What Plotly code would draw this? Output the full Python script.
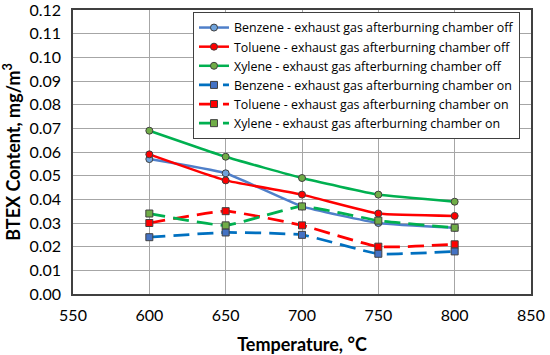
import plotly.graph_objects as go

temps = [600, 650, 700, 750, 800]
benzene_off = [0.057, 0.051, 0.037, 0.030, 0.028]
toluene_off = [0.059, 0.048, 0.042, 0.034, 0.033]
xylene_off = [0.069, 0.058, 0.049, 0.042, 0.039]
benzene_on = [0.024, 0.026, 0.025, 0.017, 0.018]
toluene_on = [0.030, 0.035, 0.029, 0.020, 0.021]
xylene_on = [0.034, 0.029, 0.037, 0.031, 0.028]

names = [
    "Benzene - exhaust gas afterburning chamber off",
    "Toluene - exhaust gas afterburning chamber off",
    "Xylene - exhaust gas afterburning chamber off",
    "Benzene - exhaust gas afterburning chamber on",
    "Toluene - exhaust gas afterburning chamber on",
    "Xylene - exhaust gas afterburning chamber on",
]
series = [benzene_off, toluene_off, xylene_off, benzene_on, toluene_on, xylene_on]
line_colors = ["#4F7FC9", "#FF0000", "#00B050", "#0070C0", "#FF0000", "#00B050"]
fill_colors = ["#6FA3DC", "#FF0000", "#70AD47", "#4472C4", "#FF0000", "#70AD47"]
symbols = ["circle", "circle", "circle", "square", "square", "square"]
dashes = ["solid", "solid", "solid", "16px,8px", "16px,8px", "16px,8px"]
widths = [2.5, 2.5, 2.5, 2.75, 2.75, 2.75]

fig = go.Figure()
for n, y, lc, fc, s, d, w in zip(names, series, line_colors, fill_colors, symbols, dashes, widths):
    fig.add_trace(go.Scatter(
        x=temps, y=y, name=n, mode="lines+markers",
        line=dict(color=lc, width=w, dash=d, shape="spline", smoothing=0.4),
        marker=dict(symbol=s, size=7, color=fc, line=dict(color="#404040", width=1)),
    ))

font = "Lato, 'Open Sans', sans-serif"
fig.update_layout(
    width=550, height=355,
    margin=dict(l=73, r=19, t=10, b=61),
    paper_bgcolor="white", plot_bgcolor="white",
    font=dict(family=font, color="black", size=16),
    legend=dict(
        x=0.262, y=0.993, xanchor="left", yanchor="top",
        bgcolor="white", bordercolor="#404040", borderwidth=1,
        font=dict(size=12.4, family="'Open Sans', sans-serif"), tracegroupgap=0,
        itemwidth=30,
    ),
    xaxis=dict(
        range=[550, 850], dtick=50, tick0=550,
        showgrid=True, gridcolor="#A6A6A6", gridwidth=1,
        showline=True, linecolor="#404040", linewidth=1.5, mirror=True,
        ticks="", zeroline=False, automargin=False, ticklabeloverflow="allow",
        ticklabelstandoff=6,
        title=dict(text="<b>Temperature, °C</b>", font=dict(size=18)),
        tickfont=dict(size=16),
    ),
    yaxis=dict(
        range=[0, 0.12], dtick=0.01, tickformat=".2f",
        showgrid=True, gridcolor="#A6A6A6", gridwidth=1,
        showline=True, linecolor="#404040", linewidth=1.5, mirror=True,
        ticks="", zeroline=False, automargin=False, ticklabeloverflow="allow",
        ticklabelstandoff=7,
        title=dict(text="<b>BTEX Content, mg/m<sup>3</sup></b>", font=dict(size=18)),
        tickfont=dict(size=16),
    ),
)

fig.write_html("out.html", config={"displayModeBar": False},
               post_script="document.body.style.margin='0';")
